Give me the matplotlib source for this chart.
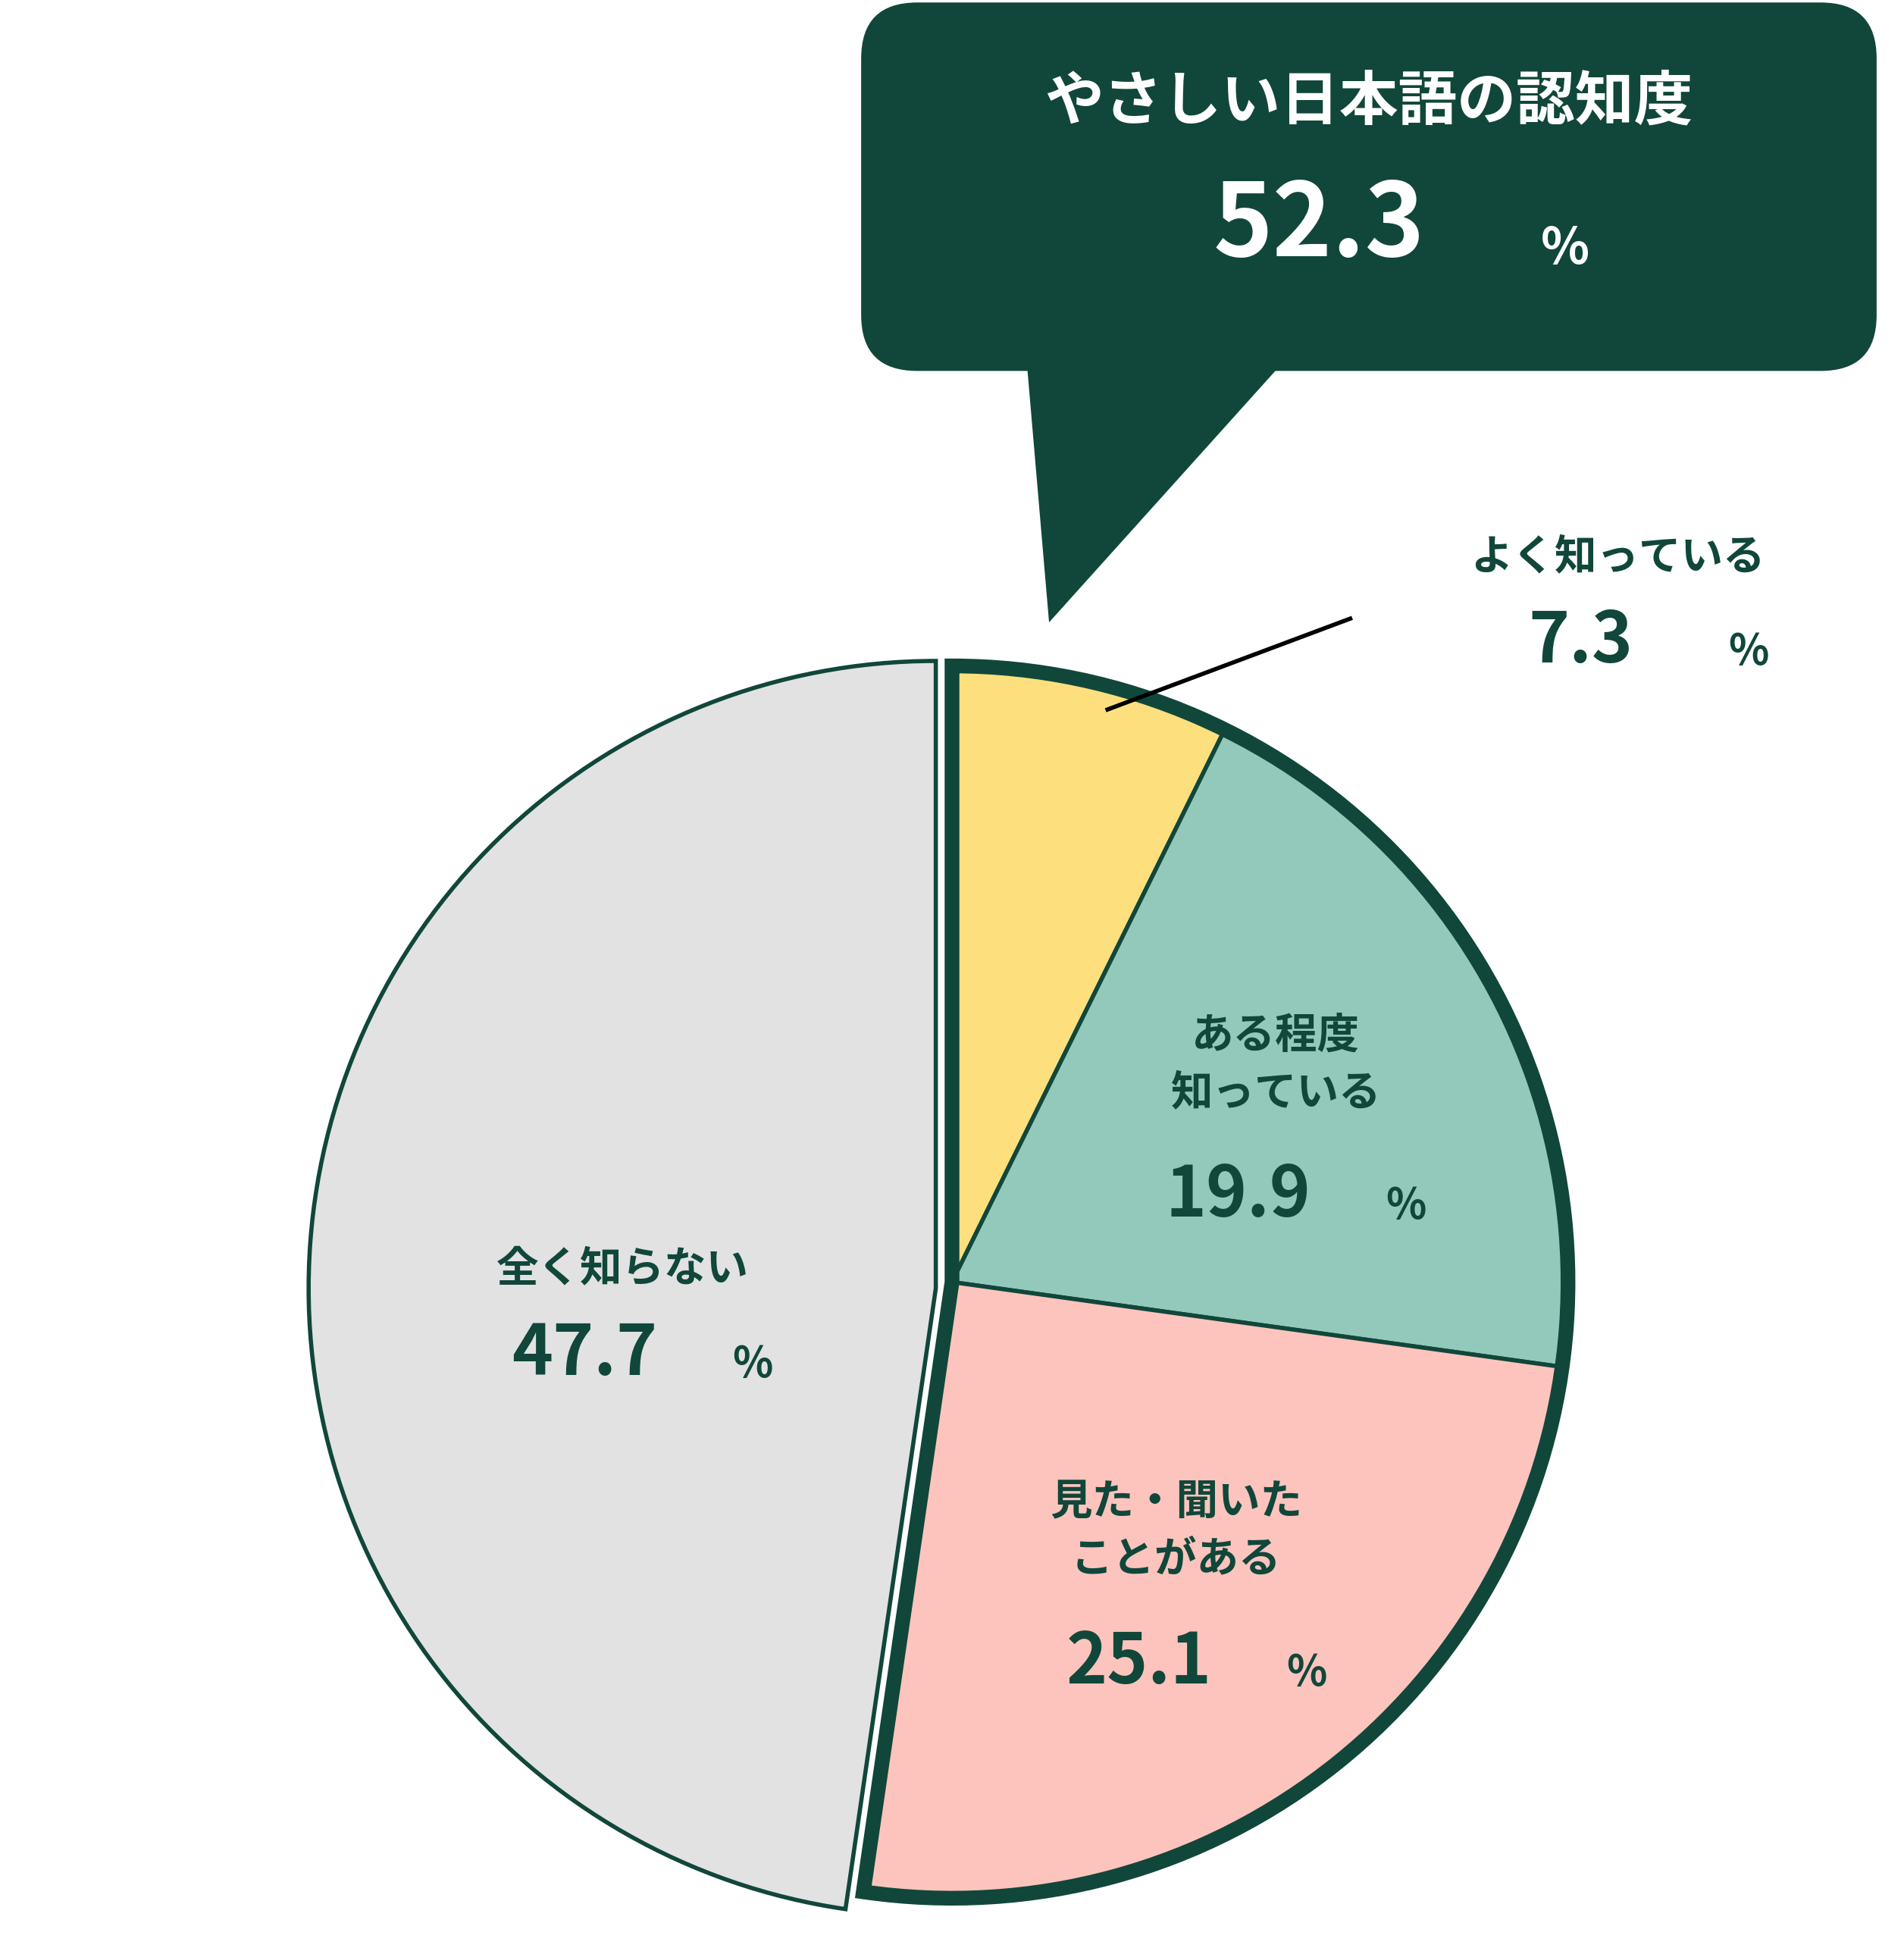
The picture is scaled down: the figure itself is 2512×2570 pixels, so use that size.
import matplotlib.pyplot as plt
from matplotlib.patches import Wedge, FancyBboxPatch, Polygon
import numpy as np

plt.rcParams['font.family'] = ['Noto Sans CJK JP', 'DejaVu Sans']

labels = ['よく知っている', 'ある程度\n知っている', '見た・聞いた\nことがある', '全く知らない']
values = [7.3, 19.9, 25.1, 47.7]
colors = ['#fddf7e', '#93c9bb', '#fdc4be', '#e2e2e2']
title = 'やさしい日本語の認知度'
known_total = 52.3

dark = '#10473a'
W, H = 1530, 1565
fig = plt.figure(figsize=(25.12, 25.70), dpi=100)
ax = fig.add_axes([0, 0, 1, 1])
ax.set_xlim(0, W)
ax.set_ylim(H, 0)
ax.axis('off')

# angles: start at top, clockwise (image y down => positive angle is clockwise)
bounds = np.concatenate([[0], np.cumsum(values)]) / 100 * 360 - 90
grp_c, grp_r = (765, 1030), 495
grey_c, grey_r = (752, 1035), 504

for i, v in enumerate(values):
    c, r = (grey_c, grey_r) if i == 3 else (grp_c, grp_r)
    ax.add_patch(Wedge(c, r, bounds[i], bounds[i + 1], facecolor=colors[i],
                       edgecolor=dark, lw=4, zorder=2))
# thick outline around the "known" group
ax.add_patch(Wedge(grp_c, grp_r, bounds[0], bounds[3], facecolor='none',
                   edgecolor=dark, lw=14, zorder=3, joinstyle='miter'))

# callout
ax.add_patch(FancyBboxPatch((692, 2), 816, 296, boxstyle='round,pad=0,rounding_size=45',
                            facecolor=dark, edgecolor='none'))
ax.add_patch(Polygon([(825, 290), (1032, 290), (843, 500)], facecolor=dark, edgecolor='none'))
ax.text(1100, 82, title, color='white', fontsize=56, fontweight='bold', ha='center', va='center')
ax.text(1060, 182, f'{known_total}', color='white', fontsize=96, fontweight='bold', ha='center', va='center')
ax.text(1258, 200, '%', color='white', fontsize=48, fontweight='bold', ha='center', va='center')

ax.plot([890, 1085], [570, 497], color='black', lw=4, zorder=4)

label_pos = [(1300, 448), (1025, 855), (945, 1230), (500, 1020)]
for (x, y), lab, v in zip(label_pos, labels, values):
    n = lab.count('\n') + 1
    ax.text(x, y, lab, color=dark, fontsize=40, fontweight='bold', ha='center', va='center',
            linespacing=1.45, zorder=5)
    py = y + 30 + n * 38
    ax.text(x - 30, py, f'{v}', color=dark, fontsize=66, fontweight='bold', ha='center', va='center', zorder=5)
    ax.text(x + 105, py + 8, '%', color=dark, fontsize=40, fontweight='bold', ha='center', va='center', zorder=5)

fig.savefig('out.png', dpi=100)
